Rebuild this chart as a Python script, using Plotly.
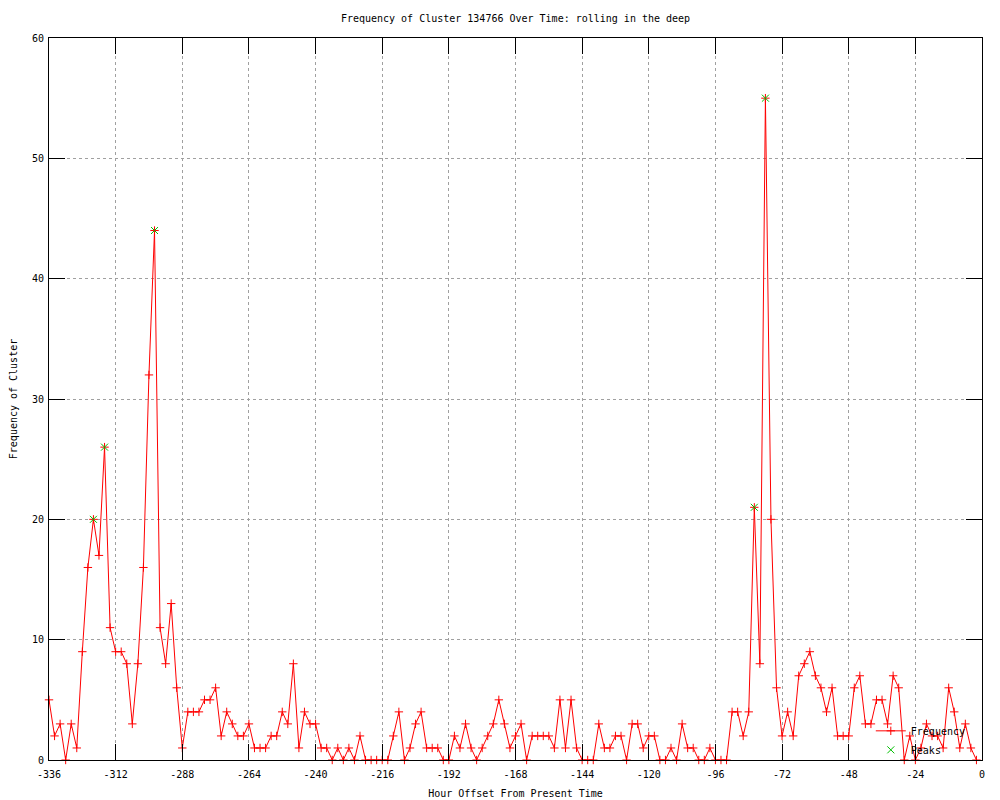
import plotly.graph_objects as go

# Frequency per 2-hour bin, starting at -336 h (rows of 12 = 24 h each)
freq = [
    5, 2, 3, 0, 3, 1, 9, 16, 20, 17, 26, 11,
    9, 9, 8, 3, 8, 16, 32, 44, 11, 8, 13, 6,
    1, 4, 4, 4, 5, 5, 6, 2, 4, 3, 2, 2,
    3, 1, 1, 1, 2, 2, 4, 3, 8, 1, 4, 3,
    3, 1, 1, 0, 1, 0, 1, 0, 2, 0, 0, 0,
    0, 0, 2, 4, 0, 1, 3, 4, 1, 1, 1, 0,
    0, 2, 1, 3, 1, 0, 1, 2, 3, 5, 3, 1,
    2, 3, 0, 2, 2, 2, 2, 1, 5, 1, 5, 1,
    0, 0, 0, 3, 1, 1, 2, 2, 0, 3, 3, 1,
    2, 2, 0, 0, 1, 0, 3, 1, 1, 0, 0, 1,
    0, 0, 0, 4, 4, 2, 4, 21, 8, 55, 20, 6,
    2, 4, 2, 7, 8, 9, 7, 6, 4, 6, 2, 2,
    2, 6, 7, 3, 3, 5, 5, 3, 7, 6, 0, 2,
    0, 1, 3, 2, 2, 1, 6, 4, 1, 3, 1, 0,
]
hours = [-336 + 2 * i for i in range(len(freq))]

peak_hours = [-320, -316, -298, -82, -78]
peak_values = [20, 26, 44, 21, 55]

x_ticks = [-336, -312, -288, -264, -240, -216, -192, -168, -144, -120, -96, -72, -48, -24, 0]
x_tick_text = [str(v) for v in x_ticks]
y_ticks = [0, 10, 20, 30, 40, 50, 60]

FONT = "DejaVu Sans Mono"

fig = go.Figure()
fig.add_trace(go.Scatter(
    x=hours, y=freq, name="Frequency", mode="lines+markers",
    line=dict(color="#ff0000", width=1),
    marker=dict(symbol="cross-thin-open", size=6, color="#ff0000",
                line=dict(color="#ff0000", width=1)),
    cliponaxis=False,
))
fig.add_trace(go.Scatter(
    x=peak_hours, y=peak_values, name="Peaks", mode="markers",
    marker=dict(symbol="x-thin-open", size=7, color="#00c000",
                line=dict(color="#00c000", width=1)),
    cliponaxis=False,
))

axis_common = dict(
    showline=True, linecolor="black", linewidth=1, mirror="ticks",
    ticks="inside", ticklen=16, tickcolor="black", tickwidth=1,
    showgrid=True, gridcolor="#a0a0a0", griddash="dot", gridwidth=1,
    zeroline=False, automargin=False,
    tickfont=dict(family=FONT, size=10, color="black"),
)

fig.update_layout(
    width=1000, height=800,
    margin=dict(l=41, r=26, t=30, b=48),
    paper_bgcolor="white", plot_bgcolor="white",
    font=dict(family=FONT, size=10, color="black"),
    title=dict(text="Frequency of Cluster 134766 Over Time: rolling in the deep",
               x=0.5, xref="paper", y=1 - 10 / 800, yref="container",
               yanchor="middle", font=dict(family=FONT, size=10, color="black")),
    xaxis=dict(range=[-336, 0], tickvals=x_ticks, ticktext=x_tick_text,
               ticklabelstandoff=5,
               title=dict(text="Hour Offset From Present Time", standoff=10,
                          font=dict(family=FONT, size=10)),
               **axis_common),
    yaxis=dict(range=[0, 60], tickvals=y_ticks, ticklabelstandoff=2,
               title=dict(text="Frequency of Cluster", standoff=12,
                          font=dict(family=FONT, size=10)),
               **axis_common),
    legend=dict(x=0.988, y=-0.006, xanchor="right", yanchor="bottom",
                bgcolor="rgba(0,0,0,0)", borderwidth=0,
                font=dict(family=FONT, size=10), tracegroupgap=0,
                itemwidth=30),
    showlegend=True,
)

fig.write_html("out.html")
